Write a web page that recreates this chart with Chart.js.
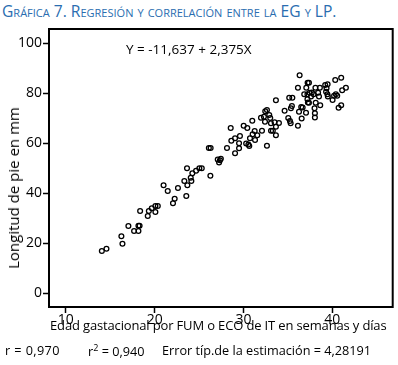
<!DOCTYPE html>
<html>
<head>
<meta charset="utf-8">
<script src="https://cdn.jsdelivr.net/npm/chart.js@4.4.1/dist/chart.umd.min.js"></script>
<style>
  body { margin: 0; background: #fff; width: 398px; height: 365px; overflow: hidden; position: relative; font-family: "Open Sans", sans-serif; }
  #chartBox { position: absolute; left: 0; top: 0; width: 398px; height: 365px; }
  .txt { position: absolute; white-space: nowrap; color: #000; }
  #titulo { left: 2px; top: 0px; font-size: 15.6px; color: #2a6db0; font-variant: small-caps; }
  #ecuacion { left: 126px; top: 40px; font-size: 13.5px; }
  #tituloX { left: 50px; top: 316px; font-size: 13px; letter-spacing: -0.15px; }
  #tituloY { left: 12.5px; top: 188px; font-size: 15px; transform: translate(-50%, -50%) rotate(-90deg); }
  .est { top: 341px; font-size: 12.7px; }
</style>
</head>
<body>
<div id="titulo" class="txt">Gráfica 7. Regresión y correlación entre la EG y LP.</div>
<div id="chartBox"><canvas id="grafica"></canvas></div>
<div id="ecuacion" class="txt">Y = -11,637 + 2,375X</div>
<div id="tituloX" class="txt">Edad gastacional por FUM o ECO de IT en semanas y días</div>
<div id="tituloY" class="txt">Longitud de pie en mm</div>
<div class="txt est" style="left:5px; letter-spacing:0.4px">r = 0,970</div>
<div class="txt est" style="left:88px">r<sup style="font-size:9px">2</sup> = 0,940</div>
<div class="txt est" style="left:162px">Error típ.de la estimación = 4,28191</div>
<script>
// Edad gestacional (semanas) y longitud de pie (mm)
const edadSemanas = [
  14.05, 14.57, 16.25, 16.37, 17.04, 17.68, 18.17, 18.3, 18.17, 18.36,
  19.22, 19.34, 19.67, 20.08, 20.35, 20.08, 21.0, 21.47, 22.06, 22.25,
  22.62, 23.56, 23.34, 23.64, 23.68, 24.06, 24.13, 24.24, 24.66, 25.03,
  25.3, 26.27, 27.1, 27.35, 27.25, 27.45, 26.1, 26.3, 28.14, 28.56,
  28.63, 29.05, 29.05, 29.5, 29.5, 29.6, 30.02, 30.43, 30.3, 30.55,
  30.65, 30.73, 30.99, 31.03, 31.26, 31.3, 31.55, 31.97, 32.08, 32.45,
  32.64, 32.64, 32.3, 32.42, 32.9, 33.01, 33.09, 33.1, 33.3, 33.5,
  33.65, 33.65, 33.65, 33.99, 34.63, 35.04, 35.15, 35.5, 35.23, 35.31,
  35.45, 35.34, 36.13, 36.13, 36.25, 36.32, 36.5, 36.66, 36.55, 36.84,
  37.07, 37.2, 37.2, 37.25, 37.22, 37.37, 37.45, 37.37, 37.04, 37.7,
  37.9, 37.6, 38.0, 38.04, 38.04, 38.1, 38.6, 38.13, 38.4, 38.5,
  38.64, 39.2, 39.35, 39.3, 39.45, 39.5, 39.47, 40.03, 40.2, 40.55,
  40.4, 40.33, 40.71, 41.0, 41.0, 41.11, 41.53
];
const longitudPie = [
  16.9, 17.8, 22.8, 19.8, 26.9, 24.9, 27.0, 27.0, 24.9, 32.9,
  30.9, 32.9, 34.0, 34.9, 34.9, 32.5, 43.2, 40.9, 36.0, 37.8,
  42.1, 38.9, 44.9, 50.0, 43.2, 46.2, 44.9, 48.0, 49.0, 50.0,
  50.0, 47.0, 53.5, 53.2, 52.3, 53.8, 58.1, 58.1, 58.1, 66.1,
  61.0, 62.0, 56.0, 58.0, 60.0, 62.9, 67.0, 66.1, 59.9, 59.5,
  58.9, 62.0, 69.0, 63.6, 64.9, 61.3, 63.2, 70.2, 65.0, 72.8,
  73.3, 59.0, 70.6, 68.6, 71.3, 70.1, 68.0, 65.0, 65.0, 68.4,
  66.6, 63.2, 77.2, 68.1, 73.0, 70.1, 78.2, 78.2, 68.9, 68.0,
  74.9, 74.0, 82.2, 67.0, 72.6, 87.2, 74.5, 74.3, 69.9, 79.6,
  82.2, 79.6, 77.6, 76.3, 84.2, 84.2, 80.2, 76.2, 72.2, 80.3,
  79.6, 78.7, 74.0, 72.0, 70.3, 82.2, 82.2, 76.2, 80.2, 78.7,
  75.2, 83.3, 82.0, 80.6, 79.6, 78.7, 83.6, 77.3, 79.0, 79.0,
  79.6, 85.3, 74.2, 75.2, 86.2, 81.2, 82.2
];
const ticksX = [10, 20, 30, 40];
const ticksY = [0, 20, 40, 60, 80, 100];

const puntos = edadSemanas.map((x, i) => ({ x: x, y: longitudPie[i] }));

// marco negro alrededor del area del grafico
const marco = {
  id: "marco",
  afterDraw(chart) {
    const a = chart.chartArea;
    const ctx = chart.ctx;
    ctx.save();
    ctx.strokeStyle = "#000";
    ctx.lineWidth = 2;
    ctx.strokeRect(a.left, a.top, a.right - a.left, a.bottom - a.top);
    ctx.restore();
  }
};

const fuenteTicks = { family: "Open Sans", size: 14 };

new Chart(document.getElementById("grafica"), {
  type: "scatter",
  data: {
    datasets: [{
      data: puntos,
      pointRadius: 2.4,
      pointBorderWidth: 1.3,
      pointBorderColor: "#000",
      pointBackgroundColor: "rgba(255,255,255,0)"
    }]
  },
  options: {
    responsive: true,
    maintainAspectRatio: false,
    animation: false,
    layout: { padding: { top: 29, right: 5, left: 0, bottom: 38 } },
    plugins: { legend: { display: false }, tooltip: { enabled: false } },
    scales: {
      x: {
        type: "linear",
        min: 8.1,
        max: 46.8,
        afterBuildTicks: s => { s.ticks = ticksX.map(v => ({ value: v })); },
        afterFit: s => { s.height = 20; },
        border: { display: false },
        grid: { drawOnChartArea: false, drawTicks: true, tickLength: 6, color: "#000", tickWidth: 1.5 },
        ticks: { color: "#000", font: fuenteTicks, padding: -1, maxRotation: 0 }
      },
      y: {
        type: "linear",
        min: -5.5,
        max: 105.7,
        afterBuildTicks: s => { s.ticks = ticksY.map(v => ({ value: v })); },
        afterFit: s => { s.width = 49; },
        border: { display: false },
        grid: { drawOnChartArea: false, drawTicks: true, tickLength: 6, color: "#000", tickWidth: 1.5 },
        ticks: { color: "#000", font: fuenteTicks, padding: 1 }
      }
    }
  },
  plugins: [marco]
});
</script>
</body>
</html>
